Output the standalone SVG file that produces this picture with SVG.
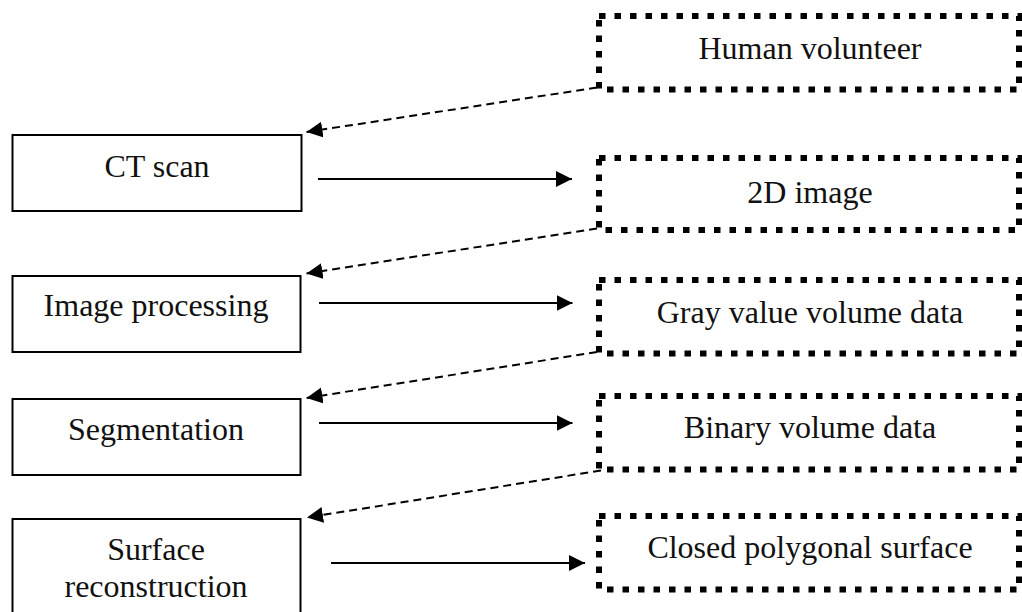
<svg xmlns="http://www.w3.org/2000/svg" width="1022" height="612" viewBox="0 0 1022 612">
<style>
.proc{fill:#fff;stroke:#000;stroke-width:2}
.data{fill:#fff;stroke:#000;stroke-width:6;stroke-dasharray:6.5 9}
.lbl{font-family:"Liberation Serif","Times New Roman",serif;font-size:32px;fill:#111;text-anchor:middle}
.solid{stroke:#000;stroke-width:2;fill:none;marker-end:url(#ah)}
.dash{stroke:#000;stroke-width:2;fill:none;stroke-dasharray:8 5;marker-end:url(#ah)}
</style>
<defs>
<marker id="ah" markerUnits="userSpaceOnUse" markerWidth="17" markerHeight="17" refX="16" refY="8" orient="auto" viewBox="0 0 17 17">
<path d="M0,0 L16,8 L0,16 Z" fill="#000"/>
</marker>
</defs>
<rect width="1022" height="612" fill="#fff"/>
<g id="ct-scan"><rect class="proc" x="12.5" y="135" width="289" height="76"/><text class="lbl" x="157" y="177">CT scan</text></g>
<g id="image-processing"><rect class="proc" x="12.5" y="276" width="288" height="76"/><text class="lbl" x="156" y="316">Image processing</text></g>
<g id="segmentation"><rect class="proc" x="12.5" y="399" width="288" height="76"/><text class="lbl" x="156" y="440">Segmentation</text></g>
<g id="surface-reconstruction"><rect class="proc" x="12.5" y="519" width="288" height="110"/><text class="lbl" x="156" y="560">Surface</text><text class="lbl" x="156" y="597">reconstruction</text></g>
<g id="human-volunteer"><rect class="data" x="599" y="16" width="420" height="73.5"/><text class="lbl" x="810" y="59">Human volunteer</text></g>
<g id="image-2d"><rect class="data" x="599" y="158" width="420" height="72"/><text class="lbl" x="810" y="203">2D image</text></g>
<g id="gray-volume"><rect class="data" x="599" y="280" width="420" height="73.5"/><text class="lbl" x="810" y="322.5">Gray value volume data</text></g>
<g id="binary-volume"><rect class="data" x="599" y="396" width="420" height="73.5"/><text class="lbl" x="810" y="438">Binary volume data</text></g>
<g id="closed-surface"><rect class="data" x="599" y="516" width="420" height="73.5"/><text class="lbl" x="810" y="558">Closed polygonal surface</text></g>
<g id="connectors">
<line class="solid" x1="318" y1="179" x2="572" y2="179"/>
<line class="solid" x1="319" y1="303" x2="572.5" y2="303"/>
<line class="solid" x1="319" y1="423" x2="572.5" y2="423"/>
<line class="solid" x1="331" y1="563" x2="585" y2="563"/>
<line class="dash" x1="597" y1="87.5" x2="306.5" y2="132"/>
<line class="dash" x1="597" y1="228.5" x2="306.5" y2="273.5"/>
<line class="dash" x1="597" y1="352" x2="306.5" y2="398"/>
<line class="dash" x1="601" y1="470.5" x2="307" y2="517.5"/>
</g>
</svg>
